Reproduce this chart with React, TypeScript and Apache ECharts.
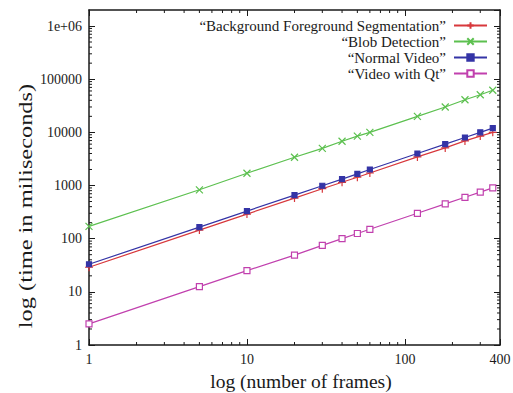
import React, { useEffect, useRef } from "react";
import * as echarts from "echarts";

const frames = [1, 5, 10, 20, 30, 40, 50, 60, 120, 180, 240, 300, 360];
const bgSegmentation = [29, 145, 290, 580, 870, 1150, 1430, 1720, 3450, 5100, 6900, 8500, 10000];
const blobDetection = [170, 830, 1700, 3400, 5000, 6800, 8500, 10000, 20000, 30000, 41000, 51000, 62000];
const normalVideo = [33, 165, 330, 660, 990, 1320, 1650, 2000, 4000, 6000, 8000, 10000, 12000];
const videoWithQt = [2.5, 12.5, 25, 49, 75, 100, 125, 150, 300, 450, 600, 750, 900];

const seriesNames = [
  "\u201cBackground Foreground Segmentation\u201d",
  "\u201cBlob Detection\u201d",
  "\u201cNormal Video\u201d",
  "\u201cVideo with Qt\u201d",
];
const seriesColors = ["#d8383c", "#5cc04f", "#3434a6", "#c140ae"];

const X_MIN = 1;
const X_MAX = 400;
const Y_MIN = 1;
const Y_MAX = 2000000;

const xMinorTicks = [2, 3, 4, 5, 6, 7, 8, 9, 20, 30, 40, 50, 60, 70, 80, 90, 200, 300];
const minorMultipliers = [2, 3, 4, 5, 6, 7, 8, 9];
const yDecades = [1, 10, 100, 1000, 10000, 100000];
const yMinorTicks: number[] = [];
yDecades.forEach((d) => minorMultipliers.forEach((m) => yMinorTicks.push(m * d)));

const FONT = "'Liberation Serif', 'DejaVu Serif', serif";
const INK = "#1a1a1a";

export default function App() {
  const ref = useRef<HTMLDivElement>(null);

  useEffect(() => {
    document.body.style.margin = "0";
    if (!ref.current) return;
    const chart = echarts.init(ref.current, null, { renderer: "svg" });

    const mk = (vals: number[]) => frames.map((f, i) => [f, vals[i]]);
    const values = [bgSegmentation, blobDetection, normalVideo, videoWithQt];
    const symbols = [
      "path://M5,0L5,10M0,5L10,5",
      "path://M0,0L10,10M10,0L0,10",
      "rect",
      "rect",
    ];
    const symbolSizes = [8, 7, 5, 6];

    const lineSeries = values.map((vals, i) => ({
      type: "line",
      name: seriesNames[i],
      data: mk(vals),
      xAxisIndex: 0,
      yAxisIndex: 0,
      symbol: symbols[i],
      symbolSize: symbolSizes[i],
      showAllSymbol: true,
      lineStyle: { color: seriesColors[i], width: 1.2 },
      itemStyle: {
        color: i === 3 ? "#ffffff" : seriesColors[i],
        borderColor: seriesColors[i],
        borderWidth: 1.2,
      },
      z: 3,
    }));

    const tickStyle = { stroke: INK, lineWidth: 1 };

    const option: any = {
      animation: false,
      grid: { left: 89, right: 13, top: 10, bottom: 48, outerBoundsMode: "none" },
      legend: {
        data: seriesNames,
        orient: "vertical",
        align: "right",
        right: 25,
        top: 18,
        itemWidth: 33,
        itemHeight: 8,
        itemGap: 1,
        padding: 0,
        selectedMode: false,
        textStyle: { fontFamily: FONT, fontSize: 15, color: INK, padding: [0, 3, 0, 0] },
      },
      xAxis: [
        {
          type: "log",
          logBase: 10,
          min: X_MIN,
          max: X_MAX,
          position: "bottom",
          axisLine: { show: true, lineStyle: { color: INK, width: 1.5 } },
          axisTick: { show: true, inside: true, length: 6, lineStyle: { color: INK } },
          axisLabel: {
            fontFamily: FONT,
            fontSize: 14,
            color: INK,
            margin: 7,
            formatter: (v: number) => String(Math.round(v)),
          },
          splitLine: { show: false },
        },
        {
          type: "log",
          logBase: 10,
          min: X_MIN,
          max: X_MAX,
          position: "top",
          axisLine: { show: true, lineStyle: { color: INK, width: 1.5 } },
          axisTick: { show: true, inside: true, length: 6, lineStyle: { color: INK } },
          axisLabel: { show: false },
          splitLine: { show: false },
        },
      ],
      yAxis: [
        {
          type: "log",
          logBase: 10,
          min: Y_MIN,
          max: Y_MAX,
          position: "left",
          axisLine: { show: true, lineStyle: { color: INK, width: 1.5 } },
          axisTick: { show: true, inside: true, length: 6, lineStyle: { color: INK } },
          axisLabel: {
            fontFamily: FONT,
            fontSize: 14,
            color: INK,
            margin: 7,
            showMaxLabel: false,
            formatter: (v: number) => {
              const r = Math.round(v);
              if (r >= 1500000) return "";
              return r === 1000000 ? "1e+06" : String(r);
            },
          },
          splitLine: { show: false },
        },
        {
          type: "log",
          logBase: 10,
          min: Y_MIN,
          max: Y_MAX,
          position: "right",
          axisLine: { show: true, lineStyle: { color: INK, width: 1.5 } },
          axisTick: { show: true, inside: true, length: 6, lineStyle: { color: INK } },
          axisLabel: { show: false },
          splitLine: { show: false },
        },
      ],
      graphic: [
        {
          type: "text",
          x: 301,
          y: 381,
          silent: true,
          style: {
            text: "log (number of frames)",
            fontFamily: FONT,
            fontSize: 19.5,
            fill: INK,
            align: "center",
            verticalAlign: "middle",
          },
        },
        {
          type: "text",
          x: 25,
          y: 206,
          rotation: Math.PI / 2,
          scaleX: 1.25,
          silent: true,
          style: {
            text: "log (time in miliseconds)",
            fontFamily: FONT,
            fontSize: 19.5,
            fill: INK,
            align: "center",
            verticalAlign: "middle",
          },
        },
      ],
      series: [
        ...lineSeries,
        {
          type: "custom",
          silent: true,
          clip: false,
          xAxisIndex: 0,
          yAxisIndex: 0,
          data: xMinorTicks.map((v) => [v, Y_MIN]),
          renderItem: (_p: any, api: any) => {
            const v = api.value(0);
            const b = api.coord([v, Y_MIN]);
            const t = api.coord([v, Y_MAX]);
            return {
              type: "group",
              children: [
                { type: "line", shape: { x1: b[0], y1: b[1], x2: b[0], y2: b[1] - 3 }, style: tickStyle },
                { type: "line", shape: { x1: t[0], y1: t[1], x2: t[0], y2: t[1] + 3 }, style: tickStyle },
              ],
            };
          },
        },
        {
          type: "custom",
          silent: true,
          clip: false,
          xAxisIndex: 0,
          yAxisIndex: 0,
          data: yMinorTicks.map((v) => [X_MIN, v]),
          renderItem: (_p: any, api: any) => {
            const v = api.value(1);
            const l = api.coord([X_MIN, v]);
            const r = api.coord([X_MAX, v]);
            return {
              type: "group",
              children: [
                { type: "line", shape: { x1: l[0], y1: l[1], x2: l[0] + 3, y2: l[1] }, style: tickStyle },
                { type: "line", shape: { x1: r[0], y1: r[1], x2: r[0] - 3, y2: r[1] }, style: tickStyle },
              ],
            };
          },
        },
      ],
    };

    chart.setOption(option);
    return () => chart.dispose();
  }, []);

  return <div ref={ref} style={{ width: 513, height: 393, background: "#ffffff" }} />;
}
